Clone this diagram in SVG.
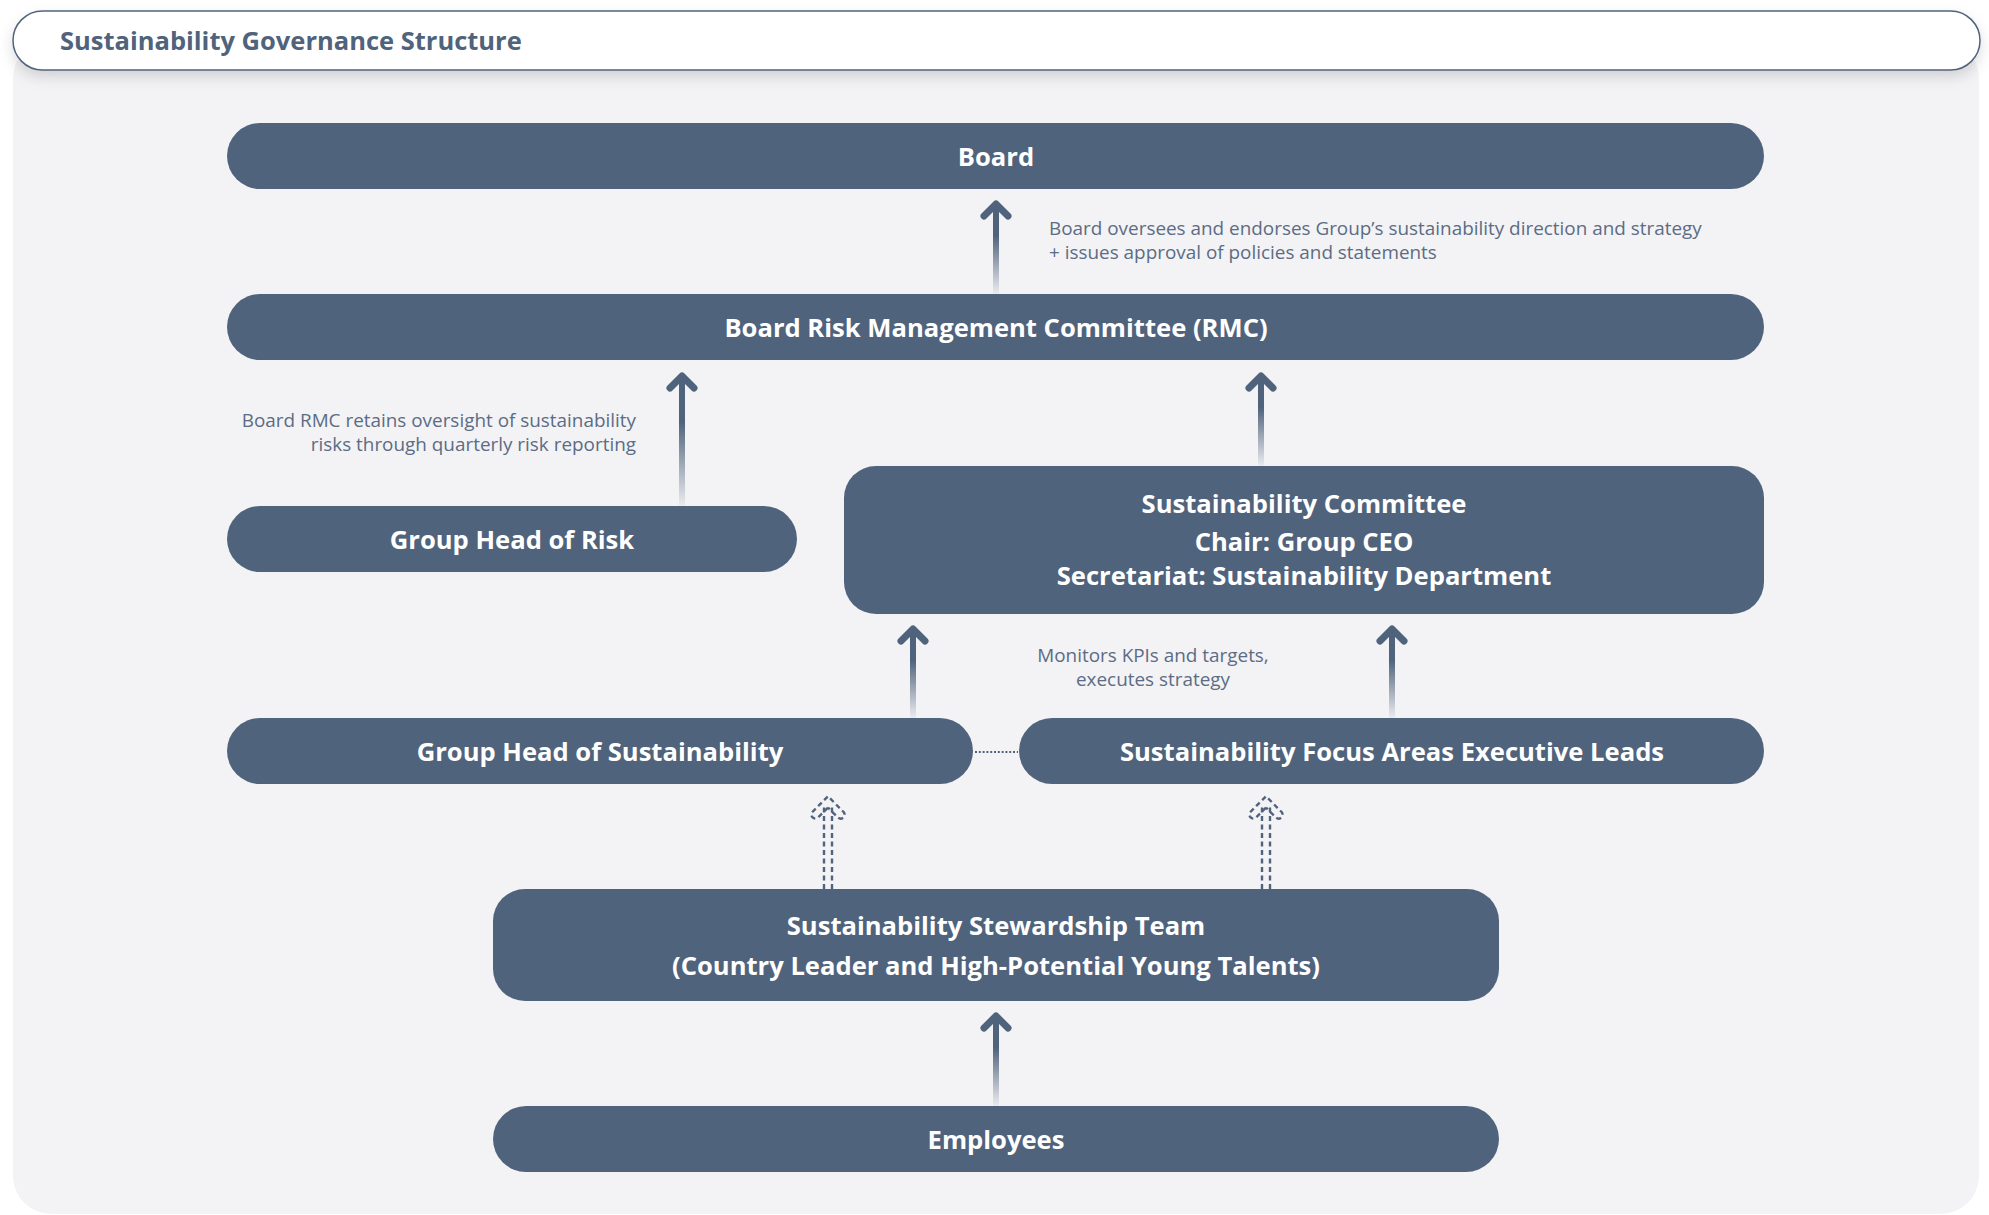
<svg xmlns="http://www.w3.org/2000/svg" width="1989" height="1215" viewBox="0 0 1989 1215">
<style>
.node{fill:#50637c}
.nt{font-family:"Open Sans","Noto Sans",sans-serif;font-weight:700;font-size:25.6px;fill:#ffffff;text-anchor:middle}
.lbl{font-family:"Open Sans","Noto Sans",sans-serif;font-size:18.9px;fill:#5c6c84}
.title{font-family:"Open Sans","Noto Sans",sans-serif;font-weight:700;font-size:25.5px;fill:#50637c}
.shaft{fill:url(#fade)}
.head{fill:none;stroke:#50637c;stroke-width:7;stroke-linecap:round;stroke-linejoin:round}
.dash{fill:none;stroke:#50637c;stroke-width:2.4;stroke-dasharray:5 3.5}
.dot{fill:none;stroke:#50637c;stroke-width:2.2;stroke-dasharray:2 1.8}
</style>
<defs>
<linearGradient id="fade" x1="0" y1="0" x2="0" y2="1">
<stop offset="0" stop-color="#50637c" stop-opacity="1"/>
<stop offset="0.35" stop-color="#50637c" stop-opacity="1"/>
<stop offset="1" stop-color="#50637c" stop-opacity="0.05"/>
</linearGradient>
<filter id="sh" x="-5%" y="-50%" width="110%" height="220%">
<feDropShadow dx="0" dy="6" stdDeviation="7" flood-color="#000000" flood-opacity="0.14"/>
</filter>
</defs>
<rect x="0" y="0" width="1989" height="1215" fill="#ffffff"/>
<rect x="13" y="40" width="1966" height="1174" rx="38" fill="#f3f3f6"/>
<g id="header">
<rect x="13" y="11" width="1967" height="59" rx="29.5" fill="#ffffff" stroke="#50637c" stroke-width="1.5" filter="url(#sh)"/>
<text class="title" x="60" y="49.5">Sustainability Governance Structure</text>
</g>
<g id="connectors">
<rect class="shaft" x="993" y="204" width="6" height="90"/>
<path class="head" d="M984 216 L996 204 L1008 216"/>
<rect class="shaft" x="679" y="376" width="6" height="130"/>
<path class="head" d="M670 388 L682 376 L694 388"/>
<rect class="shaft" x="1258" y="376" width="6" height="90"/>
<path class="head" d="M1249 388 L1261 376 L1273 388"/>
<rect class="shaft" x="910" y="629" width="6" height="89"/>
<path class="head" d="M901 641 L913 629 L925 641"/>
<rect class="shaft" x="1389" y="629" width="6" height="89"/>
<path class="head" d="M1380 641 L1392 629 L1404 641"/>
<rect class="shaft" x="993" y="1016" width="6" height="90"/>
<path class="head" d="M984 1028 L996 1016 L1008 1028"/>
<path class="dash" d="M824 889 V806 M832 889 V806 M828 807.7 L817.8 817.8 A4 4 0 0 1 812.2 812.2 L828 796.3 L843.8 812.2 A4 4 0 0 1 838.2 817.8 L828 807.7"/>
<path class="dash" d="M1262 889 V806 M1270 889 V806 M1266 807.7 L1255.8 817.8 A4 4 0 0 1 1250.2 812.2 L1266 796.3 L1281.8 812.2 A4 4 0 0 1 1276.2 817.8 L1266 807.7"/>
<path class="dot" d="M975 752 H1018"/>
<text class="lbl" x="1049" y="235">Board oversees and endorses Group’s sustainability direction and strategy</text>
<text class="lbl" x="1049" y="259">+ issues approval of policies and statements</text>
<text class="lbl" x="636" y="427" text-anchor="end">Board RMC retains oversight of sustainability</text>
<text class="lbl" x="636" y="451" text-anchor="end">risks through quarterly risk reporting</text>
<text class="lbl" x="1153" y="662" text-anchor="middle">Monitors KPIs and targets,</text>
<text class="lbl" x="1153" y="686" text-anchor="middle">executes strategy</text>
</g>
<g id="board">
<rect class="node" x="227" y="123" width="1537" height="66" rx="33"/>
<text class="nt" x="996" y="165.5">Board</text>
</g>
<g id="rmc">
<rect class="node" x="227" y="294" width="1537" height="66" rx="33"/>
<text class="nt" x="996" y="336.5">Board Risk Management Committee (RMC)</text>
</g>
<g id="group-head-risk">
<rect class="node" x="227" y="506" width="570" height="66" rx="33"/>
<text class="nt" x="512" y="548.5">Group Head of Risk</text>
</g>
<g id="sustainability-committee">
<rect class="node" x="844" y="466" width="920" height="148" rx="32"/>
<text class="nt" x="1304" y="513">Sustainability Committee</text>
<text class="nt" x="1304" y="550.5">Chair: Group CEO</text>
<text class="nt" x="1304" y="585">Secretariat: Sustainability Department</text>
</g>
<g id="group-head-sustainability">
<rect class="node" x="227" y="718" width="746" height="66" rx="33"/>
<text class="nt" x="600" y="760.5">Group Head of Sustainability</text>
</g>
<g id="focus-area-leads">
<rect class="node" x="1019" y="718" width="745" height="66" rx="33"/>
<text class="nt" x="1392" y="760.5">Sustainability Focus Areas Executive Leads</text>
</g>
<g id="stewardship-team">
<rect class="node" x="493" y="889" width="1006" height="112" rx="32"/>
<text class="nt" x="996" y="934.5">Sustainability Stewardship Team</text>
<text class="nt" x="996" y="974.5">(Country Leader and High-Potential Young Talents)</text>
</g>
<g id="employees">
<rect class="node" x="493" y="1106" width="1006" height="66" rx="33"/>
<text class="nt" x="996" y="1148.5">Employees</text>
</g>
</svg>
